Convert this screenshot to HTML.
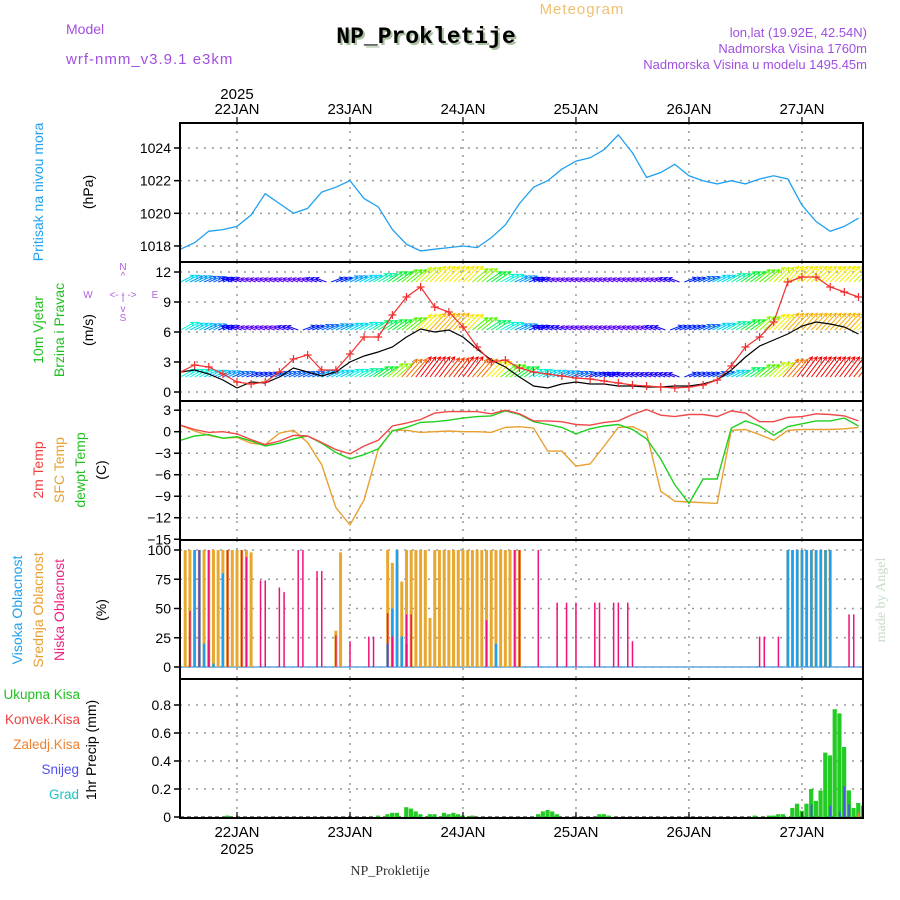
<!DOCTYPE html>
<html><head><meta charset="utf-8"><style>
html,body{margin:0;padding:0;background:#fff;width:900px;height:900px;overflow:hidden}
svg{display:block;font-family:"Liberation Sans",sans-serif}
</style></head><body>
<svg id="chart" width="900" height="900" viewBox="0 0 900 900" xmlns="http://www.w3.org/2000/svg">
<defs><clipPath id="plotclip"><rect x="180" y="123" width="683" height="695"/></clipPath></defs>
<g>
<text x="582" y="14" font-size="15" fill="#f0c070" text-anchor="middle" letter-spacing="1">Meteogram</text>
<text x="66" y="34" font-size="14" fill="#a050e0">Model</text>
<text x="66" y="64" font-size="15" fill="#a050e0" letter-spacing="1">wrf-nmm_v3.9.1 e3km</text>
<text x="428" y="45" font-family="Liberation Mono,monospace" font-weight="bold" font-size="23" fill="#a8c0a0" text-anchor="middle">NP_Prokletije</text>
<text x="426" y="43" font-family="Liberation Mono,monospace" font-weight="bold" font-size="23" fill="#000" text-anchor="middle">NP_Prokletije</text>
<text x="867" y="37" font-size="13" fill="#a050e0" text-anchor="end">lon,lat (19.92E, 42.54N)</text>
<text x="867" y="53" font-size="13" fill="#a050e0" text-anchor="end">Nadmorska Visina 1760m</text>
<text x="867" y="69" font-size="13" fill="#a050e0" text-anchor="end">Nadmorska Visina u modelu 1495.45m</text>
</g>
<g font-size="14">
<text transform="translate(43,192) rotate(-90)" text-anchor="middle" fill="#20a0f0">Pritisak na nivou mora</text>
<text transform="translate(93,192) rotate(-90)" text-anchor="middle" fill="#000">(hPa)</text>
<text transform="translate(43,330) rotate(-90)" text-anchor="middle" fill="#20c020">10m Vjetar</text>
<text transform="translate(64,330) rotate(-90)" text-anchor="middle" fill="#20c020">Brzina i Pravac</text>
<text transform="translate(93,330) rotate(-90)" text-anchor="middle" fill="#000">(m/s)</text>
<g fill="#b060e0" font-size="10" text-anchor="middle">
<text x="123" y="270">N</text><text x="123" y="279">^</text><text x="123" y="300">|</text>
<text x="88" y="298">W</text><text x="123" y="298">&lt;- - -&gt;</text><text x="155" y="298">E</text>
<text x="123" y="312">v</text><text x="123" y="321">S</text></g>
<text transform="translate(43,470) rotate(-90)" text-anchor="middle" fill="#f04040">2m Temp</text>
<text transform="translate(64,470) rotate(-90)" text-anchor="middle" fill="#e8a030">SFC Temp</text>
<text transform="translate(85,470) rotate(-90)" text-anchor="middle" fill="#20c020">dewpt Temp</text>
<text transform="translate(106,470) rotate(-90)" text-anchor="middle" fill="#000">(C)</text>
<text transform="translate(22,610) rotate(-90)" text-anchor="middle" fill="#20a0f0">Visoka Oblacnost</text>
<text transform="translate(43,610) rotate(-90)" text-anchor="middle" fill="#e8a030">Srednja Oblacnost</text>
<text transform="translate(64,610) rotate(-90)" text-anchor="middle" fill="#f02080">Niska Oblacnost</text>
<text transform="translate(106,610) rotate(-90)" text-anchor="middle" fill="#000">(%)</text>
<g font-size="13.5" text-anchor="end">
<text x="80" y="699" fill="#20c020">Ukupna Kisa</text>
<text x="80" y="724" fill="#f04040">Konvek.Kisa</text>
<text x="80" y="749" fill="#f08030">Zaledj.Kisa</text>
<text x="79" y="774" fill="#5050f0">Snijeg</text>
<text x="79" y="799" fill="#20c0c0">Grad</text>
</g>
<text transform="translate(96,750) rotate(-90)" text-anchor="middle" fill="#000">1hr Precip (mm)</text>
</g>
<text transform="translate(885,600) rotate(-90)" text-anchor="middle" font-family="Liberation Serif,serif" font-size="14" fill="#c8dcc8">made by Angel</text>
<text x="390" y="875" font-family="Liberation Serif,serif" font-size="14" fill="#333" text-anchor="middle">NP_Prokletije</text>
<g id="plot"></g>
</svg>
<script>
// ---- data (3-hourly from 21JAN 12h) ----
const dayLabels = ["22JAN","23JAN","24JAN","25JAN","26JAN","27JAN"];
const dayHours = [12,36,60,84,108,132];
const pressure = [1017.8,1018.2,1018.9,1019.0,1019.2,1019.9,1021.2,1020.6,1020.0,1020.3,1021.3,1021.6,1022.0,1020.9,1020.4,1019.0,1018.1,1017.7,1017.8,1017.9,1018.0,1017.9,1018.5,1019.3,1020.6,1021.6,1022.0,1022.7,1023.2,1023.4,1023.9,1024.8,1023.7,1022.2,1022.5,1023.0,1022.3,1022.0,1021.8,1022.0,1021.8,1022.1,1022.3,1022.1,1020.5,1019.5,1018.9,1019.2,1019.7];
const gust = [2.0,2.7,2.5,1.8,1.0,0.8,1.0,2.0,3.3,3.7,2.2,2.2,3.8,5.5,5.5,7.7,9.5,10.5,8.5,8.0,6.5,4.5,3.0,3.2,2.4,2.0,1.8,1.6,1.4,1.3,1.1,0.9,0.7,0.6,0.5,0.4,0.5,0.7,1.2,2.6,4.5,5.5,7.0,11.0,11.5,11.5,10.5,10.0,9.5];
const windSpeed = [2.0,2.2,1.8,1.2,0.4,1.0,0.9,1.5,2.4,2.0,1.6,2.0,3.0,3.6,4.0,4.5,5.5,6.3,6.0,6.2,5.5,4.3,3.2,2.5,1.5,0.6,0.4,0.8,1.0,0.8,0.8,0.6,0.6,0.5,0.5,0.6,0.6,0.8,1.2,2.2,3.5,4.6,5.2,5.8,6.6,7.0,6.8,6.5,5.8];
const windRowLow = [7,7,6,5,4,3,3,4,4,4,5,6,7,8,10,13,17,19,19,18,19,17,15,12,10,7,6,5,4,3,3,2,2,2,2,2,3,3,4,6,9,12,14,17,19,19,19,19,18];
const windRowMid = [7,6,5,3,2,1,1,1,2,3,4,5,6,7,9,10,12,15,16,16,15,12,9,7,5,3,2,2,1,1,1,1,1,1,2,3,3,4,6,8,10,13,15,16,16,16,16,16,15];
const windRowTop = [6,5,4,3,2,1,1,1,1,1,2,3,5,6,8,10,12,14,15,15,15,13,10,7,5,3,2,1,1,1,1,1,1,1,1,2,3,4,6,8,10,12,14,15,15,15,15,15,14];
const temp2m = [0.9,0.3,-0.1,0,-0.3,-1.1,-1.8,-1.3,-0.5,-0.6,-1.5,-2.5,-3.1,-2.0,-1.2,0.8,1.2,1.7,2.6,2.8,2.8,2.8,2.5,3.0,2.5,1.5,1.5,1.4,1.0,0.9,1.3,1.5,2.4,3.1,2.3,2.1,2.4,2.4,2.1,2.9,2.6,1.4,1.4,2.0,2.1,2.5,2.4,2.2,1.5];
const tempSfc = [0.9,0.1,-0.5,-0.9,-0.8,-1.6,-1.8,-0.2,0.2,-1.5,-4.6,-10.6,-13.0,-9.5,-2.5,0.2,0.2,-0.1,0,0.1,0,0,-0.1,0.6,0.7,0.5,-2.7,-2.7,-4.8,-4.5,-2.0,0.6,0.7,-0.2,-8.3,-9.7,-9.8,-9.9,-10.0,0.2,0.3,-0.4,-1.2,0.2,0.3,0.3,0.3,0.4,0.6];
const dewpt = [-1.2,-0.6,-0.4,-0.9,-0.7,-1.3,-2.0,-1.6,-1.0,-0.6,-1.6,-2.9,-3.8,-3.2,-2.4,0.1,0.6,1.3,1.4,1.6,1.9,2.1,2.2,2.9,2.4,1.4,1.0,0.6,-0.3,0.4,0.8,1.0,0.3,-1.0,-3.8,-7.4,-10.0,-6.6,-6.6,0.5,1.5,0.8,-0.5,0.7,1.1,1.5,1.5,1.9,0.8];
// clouds (hourly sparse: hour, percent)
const cloudMidHours = [1,2,3,4,5,6,7,8,9,10,11,12,13,14,15,33,34,44,45,46,47,48,49,50,51,52,53,54,55,56,57,58,59,60,61,62,63,64,65,66,67,68,69,70,71,72,129,130,131,132,133,134,135,136,137,138];
const cloudMidVals  = [100,100,100,100,100,100,100,100,100,100,100,100,100,100,98,31,98,100,89,100,73,100,100,100,100,100,42,100,100,100,100,100,100,100,100,100,100,100,100,100,100,100,100,100,100,100,100,100,100,100,100,100,100,100,100,100];
const cloudHighHours = [3,4,5,6,7,9,44,45,46,47,48,67,129,130,131,132,133,134,135,136,137,138];
const cloudHighVals  = [100,100,20,23,3,80,20,50,100,26,20,20,100,100,100,100,100,100,100,100,100,100];
const cloudLowHours = [2,4,6,10,13,14,17,18,21,22,25,26,29,30,33,36,40,41,44,45,48,49,65,71,72,76,80,82,84,88,89,92,93,95,96,123,124,127,142,143];
const cloudLowVals  = [48,100,100,100,100,94,74,74,68,64,100,100,82,82,27,22,26,26,46,26,45,45,40,100,100,100,55,55,55,55,55,55,55,55,22,26,26,26,45,45];
// precipitation (hourly sparse: hour, mm)
const precipHours = [10,42,44,45,46,48,49,50,51,53,54,56,57,58,59,60,62,76,77,78,79,80,89,90,91,122,125,126,127,128,130,131,132,133,134,135,136,137,138,139,140,141,142,143,144,145];
const precipTotal = [0.01,0.01,0.02,0.03,0.03,0.07,0.06,0.04,0.02,0.02,0.02,0.03,0.02,0.03,0.02,0.01,0.01,0.02,0.04,0.05,0.04,0.02,0.02,0.02,0.01,0.01,0.01,0.01,0.02,0.02,0.065,0.095,0.045,0.095,0.2,0.115,0.19,0.46,0.44,0.77,0.74,0.5,0.19,0.065,0.1,0.08];
const snowHours = [134,138,140,141,142,145];
const snowVals = [0.09,0.08,0.04,0.22,0.09,0.05];
const frzHours = [144];
const frzVals = [0.03];
const pTicks = [1018,1020,1022,1024];
const wTicks = [0,3,6,9,12];
const tTicks = [3,0,-3,-6,-9,-12,-15];
const cTicks = [0,25,50,75,100];
const rTicks = [0,0.2,0.4,0.6,0.8];

// ---- axes ----
const NS="http://www.w3.org/2000/svg";
const root=document.getElementById('plot');
const plot=root;
const X0=180,X1=863;
const X=h=>180.5+h*4.708;
const panels=[
 {name:'pressure',top:123,bot:262,y:v=>148+(1024-v)*16.33,ticks:pTicks,fmt:v=>String(v)},
 {name:'wind',top:262,bot:401,y:v=>392-v*10,ticks:wTicks,fmt:v=>String(v)},
 {name:'temperature',top:401,bot:540,y:v=>431.7-v*7.17,ticks:tTicks,fmt:v=>v<0?'\u2212'+(-v):String(v)},
 {name:'cloud',top:540,bot:679,y:v=>667-v*1.17,ticks:cTicks,fmt:v=>String(v)},
 {name:'precip',top:679,bot:818,y:v=>817-v*140,ticks:rTicks,fmt:v=>String(v)}];
function mk(tag,attrs,parent){const e=document.createElementNS(NS,tag);for(const k in attrs)e.setAttribute(k,attrs[k]);(parent||plot).appendChild(e);return e;}
function path(pts){return pts.map((p,i)=>(i?'L':'M')+p[0].toFixed(1)+','+p[1].toFixed(1)).join('');}
const H3=pressure.map((_,k)=>k*3);

panels.forEach(p=>{
 const g=mk('g',{});
 
 
 p.g=g;
 p.ticks.forEach(t=>{
  const yy=p.y(t);
  if(yy>p.top+1&&yy<p.bot-1){const gl=mk('line',{x1:X0,x2:X1,y1:yy,y2:yy,stroke:'#999','stroke-width':1.5,'stroke-dasharray':'2,6'},g);
  
  }
  const tk=mk('line',{x1:X0-6,x2:X0,y1:yy,y2:yy,stroke:'#000','stroke-width':1.5},g);
  
  
  const tl=mk('text',{x:X0-9,y:yy+5,'font-size':14,'text-anchor':'end',fill:'#000'},g);
  tl.textContent=p.fmt(t);
  
  
 });
 dayHours.forEach(h=>{
  const vl=mk('line',{x1:X(h),x2:X(h),y1:p.top,y2:p.bot,stroke:'#999','stroke-width':1.5,'stroke-dasharray':'2,6'},g);
  
  
 });
 p.d=mk('g',{'clip-path':'url(#plotclip)'},g);
});
// day labels top/bottom
dayLabels.forEach((d,i)=>{
 const t1=mk('text',{x:X(dayHours[i]),y:114,'font-size':15,'text-anchor':'middle',fill:'#000'});
 t1.textContent=d;
 
 
 const t2=mk('text',{x:X(dayHours[i]),y:837,'font-size':15,'text-anchor':'middle',fill:'#000'});
 t2.textContent=d;
 
 
});
const y1=mk('text',{x:X(12),y:99,'font-size':15,'text-anchor':'middle',fill:'#000'});y1.textContent='2025';


const y2=mk('text',{x:X(12),y:854,'font-size':15,'text-anchor':'middle',fill:'#000'});y2.textContent='2025';



// ---- pressure ----
const P=panels[0];
const pl=mk('path',{d:path(pressure.map((v,k)=>[X(H3[k]),P.y(v)])),fill:'none',stroke:'#20a0f0','stroke-width':1.3},P.d);



// ---- wind ----
const W=panels[1];
function hue(s){return Math.max(0,275-s*14.5);}
[[windRowTop,11],[windRowMid,6.2],[windRowLow,1.5]].forEach((row,ri)=>{
 const g=mk('g',{},W.d);
 
 
 for(let h=0;h<=145;h++){
  const s=row[0][Math.min(48,Math.round(h/3))];
  const x=X(h),yb=W.y(row[1]);
  let ang,L=10+s*0.8;
  if(s<3){ang=Math.PI+0.35;}else{ang=-(15+s*2)*Math.PI/180;}
  const x2=x+L*Math.cos(ang),yy2=yb+L*Math.sin(ang);
  const col='hsl('+hue(s)+',100%,48%)';
  const a=mk('path',{d:'M'+x.toFixed(1)+','+yb.toFixed(1)+'L'+x2.toFixed(1)+','+yy2.toFixed(1)+
   'M'+(x2-4*Math.cos(ang-0.5)).toFixed(1)+','+(yy2-4*Math.sin(ang-0.5)).toFixed(1)+'L'+x2.toFixed(1)+','+yy2.toFixed(1)+
   'L'+(x2-4*Math.cos(ang+0.5)).toFixed(1)+','+(yy2-4*Math.sin(ang+0.5)).toFixed(1),
   stroke:col,'stroke-width':1,fill:'none'},g);
  
  
 }
});
const bl=mk('path',{d:path(windSpeed.map((v,k)=>[X(H3[k]),W.y(v)])),fill:'none',stroke:'#000','stroke-width':1.2},W.d);


const gl=mk('path',{d:path(gust.map((v,k)=>[X(H3[k]),W.y(v)])),fill:'none',stroke:'#f03030','stroke-width':1.2},W.d);


gust.forEach((v,k)=>{
 const x=X(H3[k]),yy=W.y(v);
 const m=mk('path',{d:`M${x-4},${yy}H${x+4}M${x},${yy-4}V${yy+4}`,stroke:'#f03030','stroke-width':1.2},W.d);
 
 
});

// ---- temperature ----
const T=panels[2];
[[tempSfc,'#e8a030','sfc-temp-line'],[dewpt,'#20d020','dewpt-line'],[temp2m,'#f04848','temp-2m-line']].forEach(s=>{
 const l=mk('path',{d:path(s[0].map((v,k)=>[X(H3[k]),T.y(v)])),fill:'none',stroke:s[1],'stroke-width':1.4},T.d);
 
 
});

// ---- clouds ----
const C=panels[3];
const cb=mk('line',{x1:X0,x2:X1,y1:C.y(0),y2:C.y(0),stroke:'#60a8e0','stroke-width':1.5},C.d);


[[cloudMidHours,cloudMidVals,'#e8a830',3,'cloud-mid-bar'],[cloudHighHours,cloudHighVals,'#20a0f0',2.5,'cloud-high-bar'],[cloudLowHours,cloudLowVals,'#f0107a',1.5,'cloud-low-bar']].forEach(s=>{
 s[0].forEach((h,i)=>{
  const v=s[1][i],yt=C.y(v);
  const r=mk('rect',{x:X(h)-s[3]/2,y:yt,width:s[3],height:C.y(0)-yt,fill:s[2]},C.d);
  
  
 });
});

// ---- precip ----
const R=panels[4];
const rb=mk('line',{x1:X0,x2:X1,y1:R.y(0),y2:R.y(0),stroke:'#000','stroke-width':1,'stroke-dasharray':'4,3'},R.d);


precipHours.forEach((h,i)=>{
 const yt=R.y(precipTotal[i]);
 const r=mk('rect',{x:X(h)-2.3,y:yt,width:4.2,height:R.y(0)-yt,fill:'#22cc22'},R.d);
 
 
});
snowHours.forEach((h,i)=>{
 const yt=R.y(snowVals[i]);
 const r=mk('rect',{x:X(h)-0.8,y:yt,width:1.8,height:R.y(0)-yt,fill:'#5050f0'},R.d);
 
 
});
frzHours.forEach((h,i)=>{
 const yt=R.y(frzVals[i]);
 const r=mk('rect',{x:X(h)-1,y:yt,width:2,height:R.y(0)-yt,fill:'#f08030'},R.d);
 
 
});

// frames and day ticks on top
panels.forEach(p=>{
 const f=mk('rect',{x:X0,y:p.top,width:X1-X0,height:p.bot-p.top,fill:'none',stroke:'#000','stroke-width':2});
 
 
});
dayHours.forEach(h=>{
 const a=mk('line',{x1:X(h),x2:X(h),y1:117,y2:123,stroke:'#000','stroke-width':1.2});
 
 
 const b=mk('line',{x1:X(h),x2:X(h),y1:812,y2:818,stroke:'#000','stroke-width':1.2});
 
 
});
</script>
</body></html>
